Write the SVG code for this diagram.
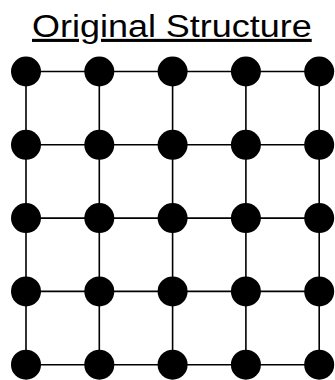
<svg xmlns="http://www.w3.org/2000/svg" width="335" height="380" viewBox="0 0 335 380">
<style>
.t{font-family:"Liberation Sans",Arial,sans-serif;font-size:31px;fill:#000;text-decoration:underline}
.e{stroke:#000;stroke-width:1.6;fill:none}
.n{fill:#000}
</style>
<rect width="335" height="380" fill="#fff"/>
<text class="t" x="0" y="0" transform="translate(32,37) scale(1.16,1)">Original Structure</text>
<g id="connectors">
<path class="e" d="M26 71.5H319.2M26 144.8H319.2M26 218.1H319.2M26 291.4H319.2M26 364.7H319.2M26 71.5V364.7M99.3 71.5V364.7M172.6 71.5V364.7M245.9 71.5V364.7M319.2 71.5V364.7"/>
</g>
<g id="n11"><circle class="n" cx="26" cy="71.5" r="15"/></g>
<g id="n12"><circle class="n" cx="99.3" cy="71.5" r="15"/></g>
<g id="n13"><circle class="n" cx="172.6" cy="71.5" r="15"/></g>
<g id="n14"><circle class="n" cx="245.9" cy="71.5" r="15"/></g>
<g id="n15"><circle class="n" cx="319.2" cy="71.5" r="15"/></g>
<g id="n21"><circle class="n" cx="26" cy="144.8" r="15"/></g>
<g id="n22"><circle class="n" cx="99.3" cy="144.8" r="15"/></g>
<g id="n23"><circle class="n" cx="172.6" cy="144.8" r="15"/></g>
<g id="n24"><circle class="n" cx="245.9" cy="144.8" r="15"/></g>
<g id="n25"><circle class="n" cx="319.2" cy="144.8" r="15"/></g>
<g id="n31"><circle class="n" cx="26" cy="218.1" r="15"/></g>
<g id="n32"><circle class="n" cx="99.3" cy="218.1" r="15"/></g>
<g id="n33"><circle class="n" cx="172.6" cy="218.1" r="15"/></g>
<g id="n34"><circle class="n" cx="245.9" cy="218.1" r="15"/></g>
<g id="n35"><circle class="n" cx="319.2" cy="218.1" r="15"/></g>
<g id="n41"><circle class="n" cx="26" cy="291.4" r="15"/></g>
<g id="n42"><circle class="n" cx="99.3" cy="291.4" r="15"/></g>
<g id="n43"><circle class="n" cx="172.6" cy="291.4" r="15"/></g>
<g id="n44"><circle class="n" cx="245.9" cy="291.4" r="15"/></g>
<g id="n45"><circle class="n" cx="319.2" cy="291.4" r="15"/></g>
<g id="n51"><circle class="n" cx="26" cy="364.7" r="15"/></g>
<g id="n52"><circle class="n" cx="99.3" cy="364.7" r="15"/></g>
<g id="n53"><circle class="n" cx="172.6" cy="364.7" r="15"/></g>
<g id="n54"><circle class="n" cx="245.9" cy="364.7" r="15"/></g>
<g id="n55"><circle class="n" cx="319.2" cy="364.7" r="15"/></g>
</svg>
